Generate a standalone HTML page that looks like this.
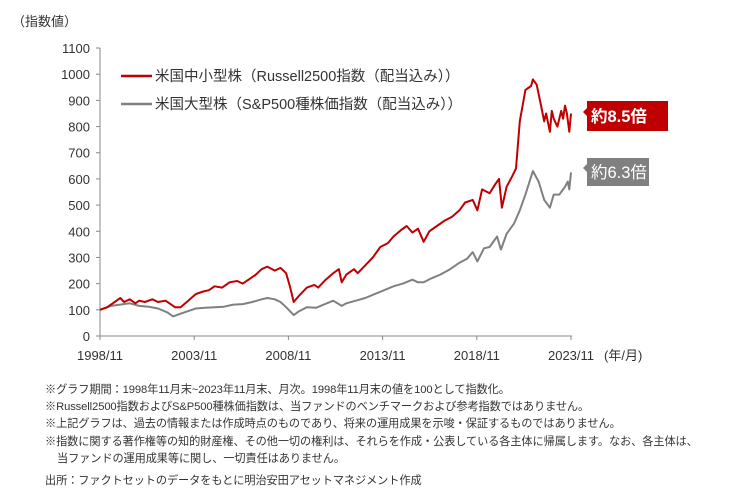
<!DOCTYPE html>
<html><head><meta charset="utf-8"><style>
body{margin:0;background:#fff;width:740px;height:501px;overflow:hidden;font-family:"Liberation Sans","Noto Sans CJK JP",sans-serif;color:#333}
.note{position:absolute;left:45px;font-size:11.2px;white-space:nowrap;color:#333;letter-spacing:-0.1px}
</style></head><body>
<svg width="740" height="501" style="position:absolute;left:0;top:0">
<g id="axes"></g><g id="series"></g>
</svg>
<div class="note" style="top:381px">※グラフ期間：1998年11月末~2023年11月末、月次。1998年11月末の値を100として指数化。</div>
<div class="note" style="top:398px">※Russell2500指数およびS&amp;P500種株価指数は、当ファンドのベンチマークおよび参考指数ではありません。</div>
<div class="note" style="top:415px">※上記グラフは、過去の情報または作成時点のものであり、将来の運用成果を示唆・保証するものではありません。</div>
<div class="note" style="top:433px">※指数に関する著作権等の知的財産権、その他一切の権利は、それらを作成・公表している各主体に帰属します。なお、各主体は、</div>
<div class="note" style="top:450px;left:57px">当ファンドの運用成果等に関し、一切責任はありません。</div>
<div class="note" style="top:472px">出所：ファクトセットのデータをもとに明治安田アセットマネジメント作成</div>
<script>
const yTicks=[0,100,200,300,400,500,600,700,800,900,1000,1100];
const xTickYears=[1998.92,2003.92,2008.92,2013.92,2018.92,2023.92];
const xTickLabels=["1998/11","2003/11","2008/11","2013/11","2018/11","2023/11"];
const redT=[1998.92,1999.3,1999.6,2000.0,2000.2,2000.5,2000.8,2001.0,2001.3,2001.7,2002.0,2002.4,2002.7,2002.9,2003.2,2003.6,2004.0,2004.4,2004.7,2005.0,2005.4,2005.8,2006.2,2006.5,2006.8,2007.2,2007.5,2007.8,2008.2,2008.5,2008.8,2009.0,2009.2,2009.5,2009.9,2010.3,2010.5,2010.9,2011.3,2011.6,2011.75,2012.0,2012.4,2012.6,2013.0,2013.4,2013.8,2014.2,2014.5,2014.9,2015.2,2015.5,2015.8,2016.1,2016.4,2016.8,2017.2,2017.6,2018.0,2018.3,2018.7,2018.95,2019.2,2019.6,2019.9,2020.1,2020.25,2020.5,2020.8,2021.0,2021.2,2021.5,2021.8,2021.9,2022.1,2022.3,2022.5,2022.6,2022.8,2022.9,2023.0,2023.2,2023.4,2023.5,2023.6,2023.7,2023.83,2023.92];
const redV=[100,110,125,145,130,140,125,135,130,140,130,135,120,110,110,135,160,170,175,190,185,205,210,200,215,235,255,265,250,260,240,190,130,155,185,195,185,215,240,255,205,235,255,240,270,300,340,355,380,405,420,395,410,360,400,420,440,455,480,510,520,480,560,545,580,600,490,570,610,640,820,940,955,980,960,890,820,850,780,860,830,800,860,830,880,850,780,850];
const grayT=[1998.92,1999.5,2000.0,2000.5,2001.0,2001.5,2002.0,2002.5,2002.8,2003.2,2003.6,2004.0,2004.5,2005.0,2005.5,2006.0,2006.5,2007.0,2007.5,2007.8,2008.2,2008.5,2008.8,2009.2,2009.5,2009.9,2010.4,2010.8,2011.3,2011.75,2012.0,2012.5,2013.0,2013.5,2014.0,2014.5,2015.0,2015.5,2015.8,2016.1,2016.5,2017.0,2017.5,2018.0,2018.4,2018.7,2018.95,2019.3,2019.6,2020.0,2020.2,2020.5,2020.9,2021.2,2021.5,2021.9,2022.2,2022.5,2022.8,2023.0,2023.3,2023.6,2023.75,2023.83,2023.92];
const grayV=[100,115,120,125,115,112,105,90,75,85,95,105,108,110,112,120,122,130,140,145,140,130,110,80,95,110,108,120,135,115,125,135,145,160,175,190,200,215,205,205,220,235,255,280,295,320,285,335,340,380,330,390,430,480,540,630,590,520,490,540,540,570,590,560,625];
const X0=100,PX5=94.2,Y0=336,PY=0.2618;
function sx(t){return X0+(t-1998.92)/5*PX5}
function sy(v){return Y0-v*PY}
const NS="http://www.w3.org/2000/svg";
function mk(tag,attrs,parent){const e=document.createElementNS(NS,tag);for(const k in attrs)e.setAttribute(k,attrs[k]);parent.appendChild(e);return e}
const ax=document.getElementById('axes'),se=document.getElementById('series');
let yl=mk('line',{x1:X0,y1:sy(1100),x2:X0,y2:Y0,stroke:'#888','stroke-width':1},ax);


let xl=mk('line',{x1:X0,y1:Y0,x2:sx(2023.92)+1,y2:Y0,stroke:'#888','stroke-width':1},ax);


yTicks.forEach(v=>{
 mk('line',{x1:X0-4,y1:sy(v),x2:X0,y2:sy(v),stroke:'#888'},ax);
 const t=mk('text',{x:X0-10,y:sy(v)+5,'text-anchor':'end','font-size':13,fill:'#333'},ax);
 t.textContent=v;
 
 
});
xTickYears.forEach((y,i)=>{
 mk('line',{x1:sx(y),y1:Y0,x2:sx(y),y2:Y0+4,stroke:'#888'},ax);
 const t=mk('text',{x:sx(y),y:360,'text-anchor':'middle','font-size':13,fill:'#333'},ax);
 t.textContent=xTickLabels[i];
 
 
});
const u=mk('text',{x:604,y:360,'font-size':13,fill:'#333'},ax);u.textContent='(年/月)';


const yt=mk('text',{x:12,y:26,'font-size':13,fill:'#333'},ax);yt.textContent='（指数値）';


function line(T,V,col,name){const p=mk('polyline',{points:T.map((t,i)=>sx(t).toFixed(1)+','+sy(V[i]).toFixed(1)).join(' '),fill:'none',stroke:col,'stroke-width':2,'stroke-linejoin':'round'},se);

}
line(grayT,grayV,'#808080','sp500-line');
line(redT,redV,'#c00000','russell2500-line');
const lg=[['#c00000','米国中小型株（Russell2500指数（配当込み））',80],['#808080','米国大型株（S&P500種株価指数（配当込み））',108]];
lg.forEach((l,i)=>{mk('line',{x1:121,y1:l[2]-4,x2:152,y2:l[2]-4,stroke:l[0],'stroke-width':2.5},se);
const t=mk('text',{x:155,y:l[2]+1,'font-size':14.5,fill:'#333'},se);t.textContent=l[1];

});
function call(y,h,w,col,txt,bold,name){const g=mk('g',{},se);


mk('path',{d:`M583 ${y-4} L587 ${y-8} L587 ${y-h/2} L${587+w} ${y-h/2} L${587+w} ${y+h/2} L587 ${y+h/2} L587 ${y} Z`,fill:col},g);
const t=mk('text',{x:591,y:y+6,'font-size':16.5,'font-weight':bold?'bold':'normal',fill:'#fff'},g);t.textContent=txt;}
call(116,30,81,'#c00000','約8.5倍',true,'russell-callout');
call(172,28,62,'#808080','約6.3倍',false,'sp500-callout');
</script>
</body></html>
